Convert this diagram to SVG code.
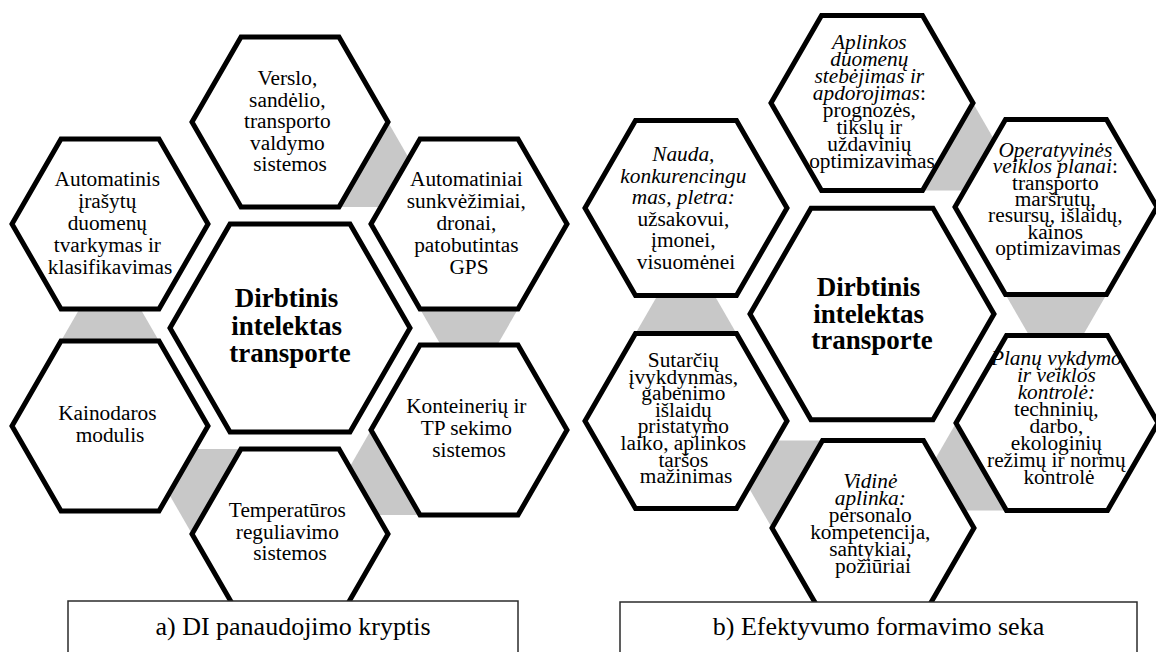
<svg xmlns="http://www.w3.org/2000/svg" xmlns:xlink="http://www.w3.org/1999/xlink" width="1156" height="652" viewBox="0 0 1156 652">
  <style>
    .hex { fill: #ffffff; stroke: #000000; stroke-width: 5; stroke-linejoin: miter; }
    .tri { fill: #c8c8c8; stroke: none; }
    .t { font-family: 'Liberation Serif', 'Times New Roman', serif; font-size: 21.33px; text-anchor: middle; fill: #000000; }
    .i { font-style: italic; }
    .hub { font-weight: bold; font-size: 27px; }
    .cap { fill: #ffffff; stroke: #2b2b2b; stroke-width: 1.5; }
    .capt { font-size: 26px; }
  </style>
  <defs>
    <!-- flat-top hexagons, centred on the origin -->
    <polygon id="hexL" class="hex" points="-98,0 -49,-85 49,-85 98,0 49,85 -49,85"/>
    <polygon id="hubL" class="hex" points="-120,0 -60,-104 60,-104 120,0 60,104 -60,104"/>
    <polygon id="hexR" class="hex" points="-101,0 -50.5,-87.5 50.5,-87.5 101,0 50.5,87.5 -50.5,87.5"/>
    <polygon id="hubR" class="hex" points="-122,0 -61,-105.7 61,-105.7 122,0 61,105.7 -61,105.7"/>
  </defs>

  <!-- grey link triangles between neighbouring hexagons (drawn first, hexagons cover them) -->
  <g id="connectors">
    <polygon class="tri" points="388,122 339,207 437,207"/>
    <polygon class="tri" points="518,309 420,309 469,394"/>
    <polygon class="tri" points="420,515 371,430 322,515"/>
    <polygon class="tri" points="192,534 241,449 143,449"/>
    <polygon class="tri" points="61,341 159,341 110,256"/>

    <polygon class="tri" points="973,103 922.5,190.5 1023.5,190.5"/>
    <polygon class="tri" points="1106.5,294.5 1005.5,294.5 1056,382"/>
    <polygon class="tri" points="1006.5,510.5 956,423 905.5,510.5"/>
    <polygon class="tri" points="772,528 822.5,440.5 721.5,440.5"/>
    <polygon class="tri" points="635.5,333.5 736.5,333.5 686,246"/>
  </g>

  <!-- a) panel -->
  <g id="a-verslo">
    <use xlink:href="#hexL" x="290" y="122"/>
    <text class="t">
      <tspan x="290" y="85">Verslo,</tspan>
      <tspan x="290" y="106.5">sandėlio,</tspan>
      <tspan x="290" y="128">transporto</tspan>
      <tspan x="290" y="149.5">valdymo</tspan>
      <tspan x="290" y="171">sistemos</tspan>
    </text>
  </g>
  <g id="a-automatinis">
    <use xlink:href="#hexL" x="110" y="224"/>
    <text class="t">
      <tspan x="110" y="186">Automatinis</tspan>
      <tspan x="110" y="208">įrašytų</tspan>
      <tspan x="110" y="230">duomenų</tspan>
      <tspan x="110" y="252">tvarkymas ir</tspan>
      <tspan x="110" y="274">klasifikavimas</tspan>
    </text>
  </g>
  <g id="a-automatiniai">
    <use xlink:href="#hexL" x="469" y="224"/>
    <text class="t">
      <tspan x="469" y="186">Automatiniai</tspan>
      <tspan x="469" y="208">sunkvėžimiai,</tspan>
      <tspan x="469" y="230">dronai,</tspan>
      <tspan x="469" y="252">patobutintas</tspan>
      <tspan x="469" y="274">GPS</tspan>
    </text>
  </g>
  <g id="a-hub">
    <use xlink:href="#hubL" x="290" y="328"/>
    <text class="t hub">
      <tspan x="290" y="307">Dirbtinis</tspan>
      <tspan x="290" y="334.5">intelektas</tspan>
      <tspan x="290" y="362">transporte</tspan>
    </text>
  </g>
  <g id="a-kainodaros">
    <use xlink:href="#hexL" x="110" y="426"/>
    <text class="t">
      <tspan x="110" y="420">Kainodaros</tspan>
      <tspan x="110" y="442">modulis</tspan>
    </text>
  </g>
  <g id="a-konteineriu">
    <use xlink:href="#hexL" x="469" y="430"/>
    <text class="t">
      <tspan x="469" y="413">Konteinerių ir</tspan>
      <tspan x="469" y="435">TP sekimo</tspan>
      <tspan x="469" y="457">sistemos</tspan>
    </text>
  </g>
  <g id="a-temperaturos">
    <use xlink:href="#hexL" x="290" y="534"/>
    <text class="t">
      <tspan x="290" y="517">Temperatūros</tspan>
      <tspan x="290" y="538.5">reguliavimo</tspan>
      <tspan x="290" y="560">sistemos</tspan>
    </text>
  </g>

  <!-- b) panel -->
  <g id="b-aplinkos">
    <use xlink:href="#hexR" x="872" y="103"/>
    <text class="t">
      <tspan class="i" x="872" y="49">Aplinkos</tspan>
      <tspan class="i" x="872" y="66">duomenų</tspan>
      <tspan class="i" x="872" y="83">stebėjimas ir</tspan>
      <tspan x="872" y="100"><tspan class="i">apdorojimas</tspan>:</tspan>
      <tspan x="872" y="117">prognozės,</tspan>
      <tspan x="872" y="134">tikslų ir</tspan>
      <tspan x="872" y="151">uždavinių</tspan>
      <tspan x="872" y="168">optimizavimas</tspan>
    </text>
  </g>
  <g id="b-nauda">
    <use xlink:href="#hexR" x="686" y="208"/>
    <text class="t">
      <tspan class="i" x="686" y="161">Nauda,</tspan>
      <tspan class="i" x="686" y="182.5">konkurencingu</tspan>
      <tspan class="i" x="686" y="204">mas, pletra:</tspan>
      <tspan x="686" y="225.5">užsakovui,</tspan>
      <tspan x="686" y="247">įmonei,</tspan>
      <tspan x="686" y="268.5">visuomėnei</tspan>
    </text>
  </g>
  <g id="b-operatyvines">
    <use xlink:href="#hexR" x="1056" y="207"/>
    <text class="t">
      <tspan class="i" x="1058" y="157">Operatyvinės</tspan>
      <tspan x="1058" y="173.3"><tspan class="i">veiklos planai</tspan>:</tspan>
      <tspan x="1058" y="189.6">transporto</tspan>
      <tspan x="1058" y="206">maršrutų,</tspan>
      <tspan x="1058" y="222.3">resursų, išlaidų,</tspan>
      <tspan x="1058" y="238.6">kainos</tspan>
      <tspan x="1058" y="255">optimizavimas</tspan>
    </text>
  </g>
  <g id="b-hub">
    <use xlink:href="#hubR" x="872" y="314"/>
    <text class="t hub">
      <tspan x="872" y="296">Dirbtinis</tspan>
      <tspan x="872" y="322.5">intelektas</tspan>
      <tspan x="872" y="349">transporte</tspan>
    </text>
  </g>
  <g id="b-sutarciu">
    <use xlink:href="#hexR" x="686" y="421"/>
    <text class="t">
      <tspan x="686" y="367">Sutarčių</tspan>
      <tspan x="686" y="383.6">įvykdynmas,</tspan>
      <tspan x="686" y="400.2">gabenimo</tspan>
      <tspan x="686" y="416.8">išlaidų</tspan>
      <tspan x="686" y="433.4">pristatymo</tspan>
      <tspan x="686" y="450">laiko, aplinkos</tspan>
      <tspan x="686" y="466.6">taršos</tspan>
      <tspan x="686" y="483.2">mažinimas</tspan>
    </text>
  </g>
  <g id="b-planu">
    <use xlink:href="#hexR" x="1057" y="423"/>
    <text class="t">
      <tspan class="i" x="1059" y="365">Planų vykdymo</tspan>
      <tspan class="i" x="1059" y="382">ir veiklos</tspan>
      <tspan class="i" x="1059" y="399">kontrolė:</tspan>
      <tspan x="1059" y="416">techninių,</tspan>
      <tspan x="1059" y="433">darbo,</tspan>
      <tspan x="1059" y="450">ekologinių</tspan>
      <tspan x="1059" y="467">režimų ir normų</tspan>
      <tspan x="1059" y="484">kontrolė</tspan>
    </text>
  </g>
  <g id="b-vidine">
    <use xlink:href="#hexR" x="873" y="528"/>
    <text class="t">
      <tspan class="i" x="873" y="488">Vidinė</tspan>
      <tspan class="i" x="873" y="505">aplinka:</tspan>
      <tspan x="873" y="522">personalo</tspan>
      <tspan x="873" y="539">kompetencija,</tspan>
      <tspan x="873" y="556">santykiai,</tspan>
      <tspan x="873" y="573">požiūriai</tspan>
    </text>
  </g>

  <!-- panel captions -->
  <g id="caption-a">
    <rect class="cap" x="68" y="601" width="450" height="60"/>
    <text class="t capt" x="293" y="635">a) DI panaudojimo kryptis</text>
  </g>
  <g id="caption-b">
    <rect class="cap" x="620" y="602" width="517" height="60"/>
    <text class="t capt" x="878.5" y="635">b) Efektyvumo formavimo seka</text>
  </g>
</svg>
